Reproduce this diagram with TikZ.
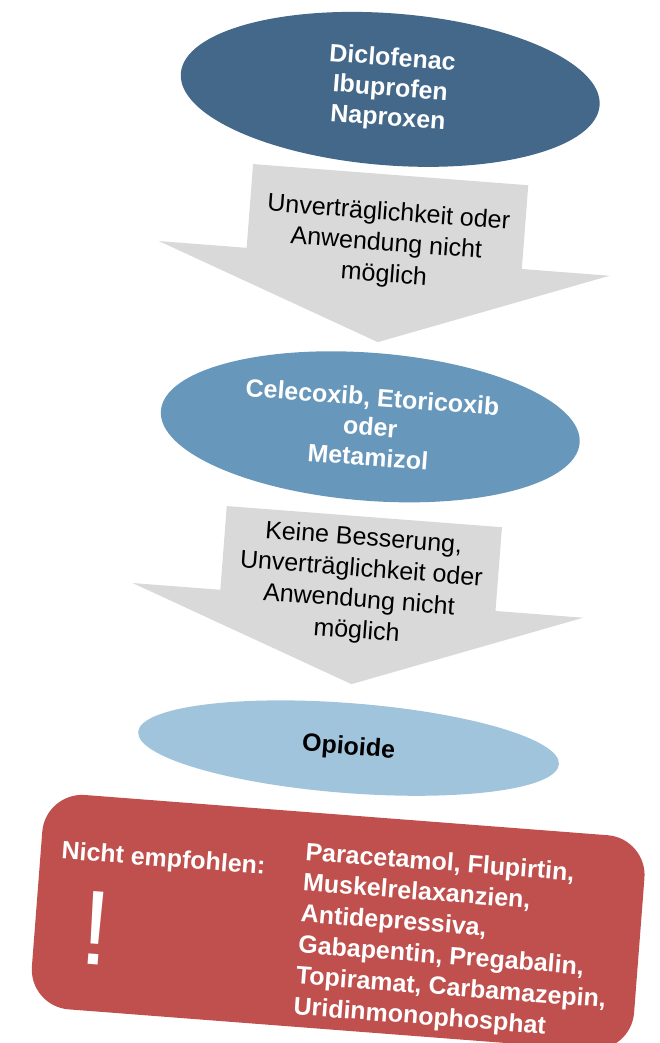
\documentclass[tikz,border=0pt]{standalone}
\usepackage{fontspec}
\setmainfont{Liberation Sans}
\usetikzlibrary{shapes.geometric}
\definecolor{dblue}{RGB}{67,104,138}
\definecolor{mblue}{RGB}{104,151,188}
\definecolor{lblue}{RGB}{160,196,220}
\definecolor{agray}{RGB}{217,217,217}
\definecolor{rbox}{RGB}{192,80,77}
\begin{document}
\begin{tikzpicture}[x=1pt,y=-1pt,
  ell/.style={ellipse, inner sep=0pt, align=center, font=\bfseries\fontsize{25}{30}\selectfont},
  arrowfill/.style={fill=agray},
  arrowtext/.style={align=center, inner sep=0pt, font=\fontsize{25}{31}\selectfont},
  boxtext/.style={text=white, inner sep=0pt, font=\bfseries\fontsize{25}{31}\selectfont}]
\useasboundingbox (0,0) rectangle (659,1043);
\clip (0,0) rectangle (659,1043);
\begin{scope}[rotate around={-4.4:(330,520)}, transform shape]
  % first ellipse
  \node[ell, fill=dblue, text=white, minimum width=420pt, minimum height=152pt] (e1) at (357,86) {Diclofenac\\Ibuprofen\\Naproxen};
  % first block arrow
  \fill[arrowfill] (226,171) -- (502,171) -- (502,255) -- (590,255) -- (364,339) -- (138,255) -- (226,255) -- cycle;
  \node[arrowtext] (t1) at (365,241) {Unverträglichkeit oder\\Anwendung nicht\\möglich};
  % second ellipse
  \node[ell, fill=mblue, text=white, minimum width=420pt, minimum height=148pt] (e2) at (363,424) {Celecoxib, Etoricoxib\\oder\\Metamizol};
  % second block arrow
  \fill[arrowfill] (226,514) -- (502,514) -- (502,598) -- (590,598) -- (364,682) -- (138,598) -- (226,598) -- cycle;
  \node[arrowtext] (t2) at (365,583) {Keine Besserung,\\Unverträglichkeit oder\\Anwendung nicht\\möglich};
  % third ellipse
  \node[ell, fill=lblue, text=black, minimum width=422pt, minimum height=90pt] (e3) at (366,746) {Opioide};
  % red box
  \node[fill=rbox, rounded corners=40pt, minimum width=604pt, minimum height=215pt, inner sep=0pt] (rb) at (369,920.5) {};
  \node[boxtext] (ne) at (190,872) {Nicht empfohlen:};
  \node[text=white, inner sep=0pt, font=\fontsize{106}{106}\selectfont] (ex) at (128,945) {!};
  \node[boxtext, anchor=west, align=left] (list) at (331,932) {Paracetamol, Flupirtin,\\Muskelrelaxanzien,\\Antidepressiva,\\Gabapentin, Pregabalin,\\Topiramat, Carbamazepin,\\Uridinmonophosphat};
\end{scope}
\end{tikzpicture}
\end{document}
